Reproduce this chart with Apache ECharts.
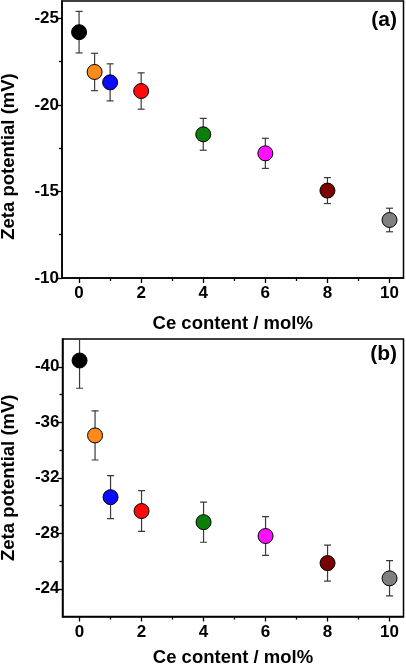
<!DOCTYPE html>
<html>
<head>
<meta charset="utf-8">
<script src="https://cdn.jsdelivr.net/npm/echarts@6/dist/echarts.min.js"></script>
<style>
html, body { margin: 0; padding: 0; background: #fff; }
#main { width: 406px; height: 665px; }
</style>
</head>
<body>
<div id="main"></div>
<script>
// Ce 含量 (mol%)
var ceContent = [0, 0.5, 1, 2, 4, 6, 8, 10];
// (a) zeta 电位及误差
var zetaA = [-24.2, -21.9, -21.3, -20.8, -18.3, -17.2, -15.05, -13.35];
var errA = [1.2, 1.08, 1.07, 1.05, 0.92, 0.87, 0.75, 0.68];
// (b) zeta 电位及误差
var zetaB = [-40.45, -35.05, -30.6, -29.6, -28.8, -27.8, -25.85, -24.75];
var errB = [2.0, 1.77, 1.55, 1.47, 1.45, 1.4, 1.3, 1.27];
// 刻度
var xMajorTicks = [0, 2, 4, 6, 8, 10];
var xMinorTicks = [1, 3, 5, 7, 9];
var yMajorTicksA = [-25, -20, -15, -10];
var yMinorTicksA = [-22.5, -17.5, -12.5];
var yMajorTicksB = [-40, -36, -32, -28, -24];
var yMinorTicksB = [-38, -34, -30, -26];

var pointColors = ['#000000', '#FF8A1C', '#0A0AFF', '#FF0A0A', '#0A7F0A', '#FF10FF', '#7A0000', '#808080'];
var FONT = '"Liberation Sans", Arial, sans-serif';

var myChart = echarts.init(document.getElementById('main'), null, {renderer: 'canvas'});

function xAxisPair(gridIndex, nameGap) {
    return [{
        type: 'value', gridIndex: gridIndex, min: -0.55, max: 10.45, position: 'bottom',
        name: 'Ce content / mol%', nameLocation: 'middle', nameGap: nameGap,
        nameTextStyle: {fontFamily: FONT, fontWeight: 'bold', fontSize: 18.5, color: '#000'},
        axisLine: {onZero: false, lineStyle: {color: '#000', width: 1.5}},
        axisTick: {show: true, length: 5, customValues: xMajorTicks, lineStyle: {color: '#000', width: 1.3}},
        axisLabel: {customValues: xMajorTicks, margin: 7, fontFamily: FONT, fontWeight: 'bold', fontSize: 17, color: '#000'},
        splitLine: {show: false}
    }, {
        type: 'value', gridIndex: gridIndex, min: -0.55, max: 10.45, position: 'bottom',
        axisLine: {show: false, onZero: false},
        axisTick: {show: true, length: 3, customValues: xMinorTicks, lineStyle: {color: '#000', width: 1.3}},
        axisLabel: {show: false},
        splitLine: {show: false}
    }];
}

function yAxisPair(gridIndex, min, max, major, minor, namePad) {
    return [{
        type: 'value', gridIndex: gridIndex, min: min, max: max, inverse: true, position: 'left',
        name: 'Zeta potential (mV)', nameLocation: 'middle', nameGap: 44,
        nameTextStyle: {fontFamily: FONT, fontWeight: 'bold', fontSize: 18.5, color: '#000', padding: namePad},
        axisLine: {onZero: false, lineStyle: {color: '#000', width: 1.5}},
        axisTick: {show: true, length: 5, customValues: major, lineStyle: {color: '#000', width: 1.3}},
        axisLabel: {customValues: major, margin: 3, fontFamily: FONT, fontWeight: 'bold', fontSize: 17, color: '#000'},
        splitLine: {show: false}
    }, {
        type: 'value', gridIndex: gridIndex, min: min, max: max, inverse: true, position: 'left',
        axisLine: {show: false, onZero: false},
        axisTick: {show: true, length: 3, customValues: minor, lineStyle: {color: '#000', width: 1.3}},
        axisLabel: {show: false},
        splitLine: {show: false}
    }];
}

// 误差棒
function errorBarSeries(axisIndex, vals, errs) {
    return {
        type: 'custom',
        xAxisIndex: axisIndex, yAxisIndex: axisIndex,
        clip: true, z: 1,
        data: ceContent.map(function (x, i) {
            return [x, vals[i] - errs[i], vals[i] + errs[i]];
        }),
        encode: {x: 0, y: [1, 2]},
        renderItem: function (params, api) {
            var lo = api.coord([api.value(0), api.value(1)]);
            var hi = api.coord([api.value(0), api.value(2)]);
            var w = 3.5;
            var style = {stroke: '#3a3a3a', lineWidth: 1.2};
            return {
                type: 'group',
                children: [
                    {type: 'line', shape: {x1: lo[0], y1: lo[1], x2: hi[0], y2: hi[1]}, style: style},
                    {type: 'line', shape: {x1: lo[0] - w, y1: lo[1], x2: lo[0] + w, y2: lo[1]}, style: style},
                    {type: 'line', shape: {x1: hi[0] - w, y1: hi[1], x2: hi[0] + w, y2: hi[1]}, style: style}
                ]
            };
        }
    };
}

function pointSeries(axisIndex, vals) {
    return {
        type: 'scatter',
        xAxisIndex: axisIndex, yAxisIndex: axisIndex,
        symbol: 'circle', symbolSize: 15, z: 3,
        data: ceContent.map(function (x, i) {
            return {value: [x, vals[i]], itemStyle: {color: pointColors[i]}};
        }),
        itemStyle: {borderColor: '#000', borderWidth: 1, opacity: 1}
    };
}

var option = {
    animation: false,
    backgroundColor: '#fff',
    grid: [
        {left: 62, top: 1, width: 341.5, height: 277, show: true, borderColor: '#000', borderWidth: 1.5, outerBoundsMode: 'none', containLabel: false},
        {left: 62.5, top: 339, width: 341, height: 277.5, show: true, borderColor: '#000', borderWidth: 1.5, outerBoundsMode: 'none', containLabel: false}
    ],
    xAxis: xAxisPair(0, 36).concat(xAxisPair(1, 32)),
    yAxis: yAxisPair(0, -26, -10, yMajorTicksA, yMinorTicksA, [0, 34, 0, 0])
        .concat(yAxisPair(1, -42, -22, yMajorTicksB, yMinorTicksB, [0, 0, 0, 0])),
    graphic: [
        {type: 'text', right: 9, top: 10, style: {text: '(a)', fontFamily: FONT, fontWeight: 'bold', fontSize: 21, fill: '#000'}},
        {type: 'text', right: 9, top: 344, style: {text: '(b)', fontFamily: FONT, fontWeight: 'bold', fontSize: 21, fill: '#000'}}
    ],
    series: [
        errorBarSeries(0, zetaA, errA),
        pointSeries(0, zetaA),
        errorBarSeries(2, zetaB, errB),
        pointSeries(2, zetaB)
    ]
};

myChart.setOption(option);
window.onresize = myChart.resize;
</script>
</body>
</html>
